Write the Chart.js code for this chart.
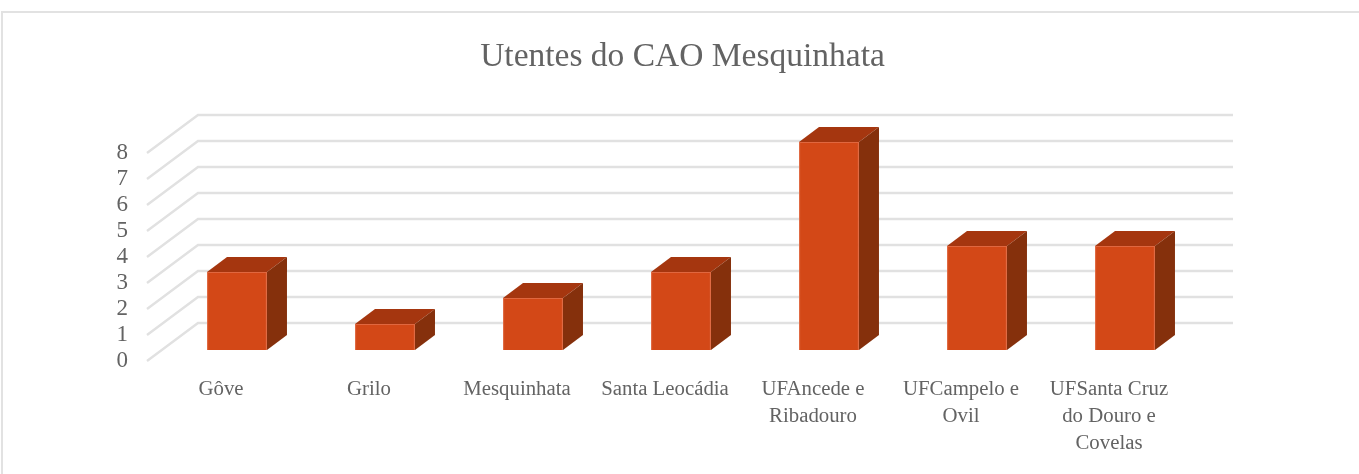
<!DOCTYPE html>
<html><head><meta charset="utf-8">
<style>
html,body{margin:0;padding:0;background:#fff}
#f{position:absolute;left:1px;top:11px;width:1358px;height:463px;border-left:2px solid #E2E2E2;border-top:2px solid #E2E2E2;box-sizing:border-box}
canvas{position:absolute;left:0;top:0}
</style>
<script src="https://cdn.jsdelivr.net/npm/chart.js@4"></script>
</head><body><div id="f"></div><canvas id="c" width="1359" height="474"></canvas>
<script>
const titleText = "Utentes do CAO Mesquinhata";
const categories = [["Gôve"],["Grilo"],["Mesquinhata"],["Santa Leocádia"],["UFAncede e","Ribadouro"],["UFCampelo e","Ovil"],["UFSanta Cruz","do Douro e","Covelas"]];
const utentes = [3,1,2,3,8,4,4];
const FONT = '"Liberation Serif", serif';
const wall = {dx:51, dy:-38, right:1233};
const barPlane = {dx:16, dy:-11};
const barDepth = {dx:20, dy:-15};
const colors = {front:'#D34817', edge:'#E0673F', top:'#A5360F', side:'#85300C', grid:'#E1E1E1', text:'#636363'};

const wall3d = {
  id:'wall3d',
  beforeDatasetsDraw(chart){
    const {ctx, scales:{x,y}} = chart;
    ctx.save();
    ctx.strokeStyle = colors.grid; ctx.lineWidth = 2.4;
    y.ticks.forEach(t=>{
      const p = y.getPixelForValue(t.value);
      ctx.beginPath();
      ctx.moveTo(x.left, p);
      ctx.lineTo(x.left+wall.dx, p+wall.dy);
      ctx.lineTo(wall.right, p+wall.dy);
      ctx.stroke();
    });
    ctx.restore();
  },
  beforeDatasetDraw(chart){
    const ctx = chart.ctx;
    ctx.save();
    ctx.translate(barPlane.dx, barPlane.dy);
    chart.getDatasetMeta(0).data.forEach(b=>{
      const p = b.getProps(['x','y','base','width'], true);
      const l = p.x-p.width/2, r = p.x+p.width/2;
      const d = barDepth;
      ctx.fillStyle = colors.top;
      ctx.beginPath();
      ctx.moveTo(l,p.y); ctx.lineTo(l+d.dx,p.y+d.dy); ctx.lineTo(r+d.dx,p.y+d.dy); ctx.lineTo(r,p.y);
      ctx.closePath(); ctx.fill();
      ctx.fillStyle = colors.side;
      ctx.beginPath();
      ctx.moveTo(r,p.y); ctx.lineTo(r+d.dx,p.y+d.dy); ctx.lineTo(r+d.dx,p.base+d.dy); ctx.lineTo(r,p.base);
      ctx.closePath(); ctx.fill();
    });
  },
  afterDatasetDraw(chart){ chart.ctx.restore(); }
};

new Chart(document.getElementById('c'),{
  type:'bar',
  data:{labels:categories,datasets:[{
    data:utentes, backgroundColor:colors.front, borderColor:colors.edge, borderWidth:1,
    barPercentage:0.405, categoryPercentage:1, clip:false
  }]},
  plugins:[wall3d],
  options:{
    responsive:false, animation:false,
    layout:{padding:{left:6,right:0,top:0,bottom:0}},
    plugins:{
      legend:{display:false}, tooltip:{enabled:false},
      title:{display:true,text:titleText,color:colors.text,
        font:{family:FONT,size:33.5,weight:'normal',lineHeight:1.2},
        padding:{top:37,bottom:75.8}}
    },
    scales:{
      x:{
        afterFit(s){s.height=113;},
        grid:{display:false,drawTicks:false}, border:{display:false},
        ticks:{color:colors.text,font:{family:FONT,size:20.8,lineHeight:1.3},padding:15,maxRotation:0,minRotation:0,autoSkip:false}
      },
      y:{
        min:0,max:8,
        afterFit(s){s.width=141;},
        grid:{display:false,drawTicks:false}, border:{display:false},
        ticks:{stepSize:1,autoSkip:false,color:colors.text,font:{family:FONT,size:23},padding:19}
      },
      rightGap:{
        position:'right',display:true,min:0,max:8,
        afterFit(s){s.width=176;},
        grid:{display:false,drawTicks:false}, border:{display:false},
        ticks:{display:false}
      }
    }
  }
});
</script></body></html>
